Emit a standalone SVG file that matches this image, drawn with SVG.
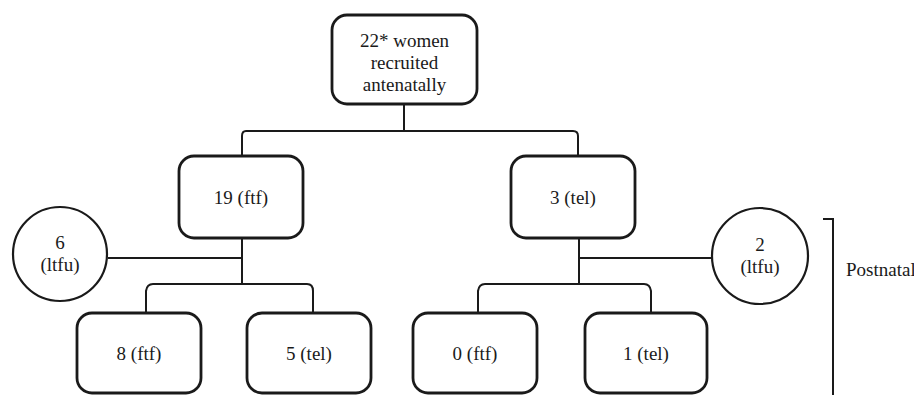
<svg xmlns="http://www.w3.org/2000/svg" width="914" height="395" viewBox="0 0 914 395">
<style>
.box{fill:#fff;stroke:#1a1a1a;stroke-width:2.8}
.circ{fill:#fff;stroke:#1a1a1a;stroke-width:2.2}
.ln{fill:none;stroke:#1a1a1a;stroke-width:2}
text{font-family:"Liberation Serif","Times New Roman",serif;font-size:19px;fill:#1a1a1a;text-anchor:middle}
</style>
<rect width="914" height="395" fill="#fff"/>
<g id="connectors">
<path class="ln" d="M404 104 V131"/>
<path class="ln" d="M242 156 V136 Q242 131 246 131 H573 Q578 131 578 136 V156"/>
<path class="ln" d="M242 238 V284"/>
<path class="ln" d="M108 258 H242"/>
<path class="ln" d="M146 313 V291 Q147 284 153 284 H307 Q313 284 313 291 V313"/>
<path class="ln" d="M579 238 V284"/>
<path class="ln" d="M579 258 H712"/>
<path class="ln" d="M478 313 V291 Q479 284 485 284 H644 Q650 284 651 291 V313"/>
</g>
<g id="bracket">
<path class="ln" d="M823 219 H833 V395"/>
<text x="846" y="276" style="text-anchor:start">Postnatal</text>
</g>
<g id="n-top">
<rect class="box" x="332" y="15" width="145" height="89" rx="15"/>
<text x="404.5" y="47">22* women</text>
<text x="404.5" y="69">recruited</text>
<text x="404.5" y="91">antenatally</text>
</g>
<g id="n-ftf19">
<rect class="box" x="179" y="156" width="124" height="82" rx="15"/>
<text x="241" y="204">19 (ftf)</text>
</g>
<g id="n-tel3">
<rect class="box" x="511" y="156" width="124" height="82" rx="15"/>
<text x="573" y="204">3 (tel)</text>
</g>
<g id="n-ltfu6">
<circle class="circ" cx="60" cy="254" r="47"/>
<text x="60" y="249">6</text>
<text x="60" y="271">(ltfu)</text>
</g>
<g id="n-ltfu2">
<circle class="circ" cx="760" cy="256" r="48"/>
<text x="760" y="251">2</text>
<text x="760" y="273">(ltfu)</text>
</g>
<g id="n-ftf8">
<rect class="box" x="77" y="313" width="124" height="80" rx="15"/>
<text x="139" y="360">8 (ftf)</text>
</g>
<g id="n-tel5">
<rect class="box" x="247" y="313" width="124" height="80" rx="15"/>
<text x="309" y="360">5 (tel)</text>
</g>
<g id="n-ftf0">
<rect class="box" x="413" y="313" width="124" height="80" rx="15"/>
<text x="475" y="360">0 (ftf)</text>
</g>
<g id="n-tel1">
<rect class="box" x="585" y="313" width="122" height="80" rx="15"/>
<text x="646" y="360">1 (tel)</text>
</g>
</svg>
